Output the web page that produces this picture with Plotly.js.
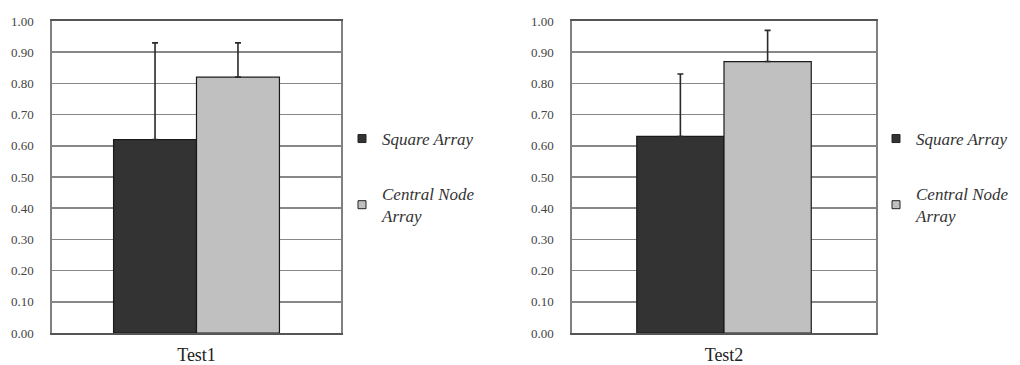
<!DOCTYPE html>
<html>
<head>
<meta charset="utf-8">
<script src="https://cdn.plot.ly/plotly-3.0.1.min.js"></script>
<style>
  html, body { margin: 0; padding: 0; background: #fff; }
  #chart { width: 1020px; height: 365px; }
</style>
</head>
<body>
<div id="chart"></div>
<script>
// Mean scores per test with upper error bars
const categories = ['Test1', 'Test2'];
const seriesNames = ['Square Array', 'Central Node<br>Array'];
const squareMean = [0.62, 0.63];
const squareErr = [0.31, 0.20];
const centralMean = [0.82, 0.87];
const centralErr = [0.11, 0.10];
const yTicks = [0, 0.1, 0.2, 0.3, 0.4, 0.5, 0.6, 0.7, 0.8, 0.9, 1.0];

const colors = ['#333333', '#c0c0c0'];
const serif = '"Liberation Serif", "DejaVu Serif", serif';

const traces = [];
categories.forEach((cat, i) => {
  const xa = i === 0 ? 'x' : 'x2';
  const ya = i === 0 ? 'y' : 'y2';
  const lg = i === 0 ? 'legend' : 'legend2';
  const means = [squareMean[i], centralMean[i]];
  const errs = [squareErr[i], centralErr[i]];
  means.forEach((m, s) => {
    traces.push({
      type: 'bar',
      x: [cat],
      y: [m],
      xaxis: xa, yaxis: ya,
      name: seriesNames[s],
      showlegend: false,
      marker: { color: colors[s], line: { color: '#1a1a1a', width: 1.2 } },
      error_y: {
        type: 'data', symmetric: false,
        array: [errs[s]], arrayminus: [0],
        color: '#2a2a2a', thickness: 1.6, width: 3
      },
      hoverinfo: 'y'
    });
  });
  // legend swatches for this panel
  seriesNames.forEach((nm, s) => {
    traces.push({
      type: 'scatter', mode: 'markers',
      x: [null], y: [null],
      xaxis: xa, yaxis: ya,
      name: nm,
      legend: lg,
      legendgroup: lg + '_' + s,
      marker: { symbol: 'square', size: 8, color: colors[s], line: { color: '#222', width: 1 } },
      hoverinfo: 'skip'
    });
  });
});

const yAxisBase = {
  range: [0, 1],
  tickvals: yTicks,
  ticktext: yTicks.map(v => v.toFixed(2)),
  showgrid: true,
  gridcolor: '#888888',
  gridwidth: 1.6,
  zeroline: false,
  showline: true,
  mirror: true,
  linecolor: '#808080',
  linewidth: 1.6,
  ticks: '',
  ticklabelstandoff: 14,
  tickfont: { family: serif, size: 13, color: '#444' },
  fixedrange: true,
  domain: [1 - 333 / 365, 1 - 21 / 365]
};

const xAxisBase = {
  type: 'category',
  showgrid: false,
  zeroline: false,
  showline: true,
  mirror: true,
  linecolor: '#555',
  linewidth: 1.6,
  ticks: '',
  ticklabelstandoff: 5,
  tickfont: { family: serif, size: 18, color: '#222' },
  fixedrange: true
};

const legendBase = {
  yanchor: 'top',
  y: 1 - 121 / 365,
  xanchor: 'left',
  bgcolor: 'rgba(0,0,0,0)',
  borderwidth: 0,
  tracegroupgap: 30,
  itemwidth: 30,
  font: { family: serif, size: 17, color: '#333', style: 'italic' }
};

const layout = {
  width: 1020,
  height: 365,
  margin: { l: 0, r: 0, t: 0, b: 0 },
  paper_bgcolor: '#fff',
  plot_bgcolor: '#fff',
  barmode: 'group',
  bargap: 0.426,
  bargroupgap: 0,
  xaxis: Object.assign({}, xAxisBase, { domain: [52 / 1020, 341 / 1020], anchor: 'y' }),
  yaxis: Object.assign({}, yAxisBase, { anchor: 'x' }),
  xaxis2: Object.assign({}, xAxisBase, { domain: [572 / 1020, 876 / 1020], anchor: 'y2' }),
  yaxis2: Object.assign({}, yAxisBase, { anchor: 'x2' }),
  legend: Object.assign({}, legendBase, { x: 342 / 1020 }),
  legend2: Object.assign({}, legendBase, { x: 876 / 1020 }),
  showlegend: true
};

Plotly.newPlot('chart', traces, layout, { displayModeBar: false, staticPlot: true });
</script>
</body>
</html>
